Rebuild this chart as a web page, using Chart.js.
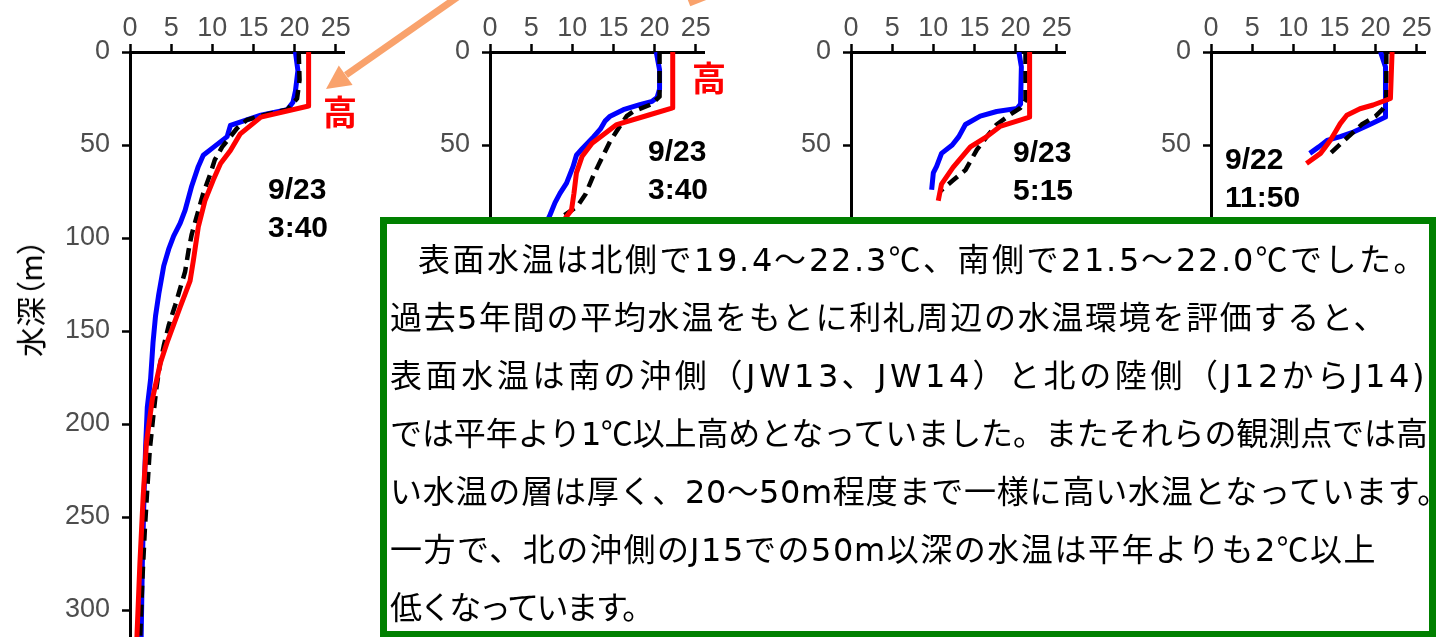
<!DOCTYPE html>
<html lang="ja">
<head>
<meta charset="utf-8">
<title>水温の鉛直分布</title>
<script src="https://cdn.jsdelivr.net/npm/chart.js@4.4.1/dist/chart.umd.min.js"></script>
<style>
@font-face { font-family: "NumDV"; src: local("DejaVu Sans"); unicode-range: U+0030-0039, U+002E, U+0041-005A, U+0061-007A, U+0029; }
html, body { margin: 0; padding: 0; background: #fff; }
#stage { position: relative; width: 1437px; height: 637px; overflow: hidden; }
canvas { position: absolute; top: 0; }
.date { position: absolute; font: bold 30px "Liberation Sans", Arial, sans-serif; line-height: 38px; color: #000; white-space: pre; }
.high { position: absolute; font: bold 34px "Noto Sans CJK JP", sans-serif; line-height: 34px; color: #ff0000; }
#ytitle { position: absolute; left: 29px; top: 298px; transform: translate(-50%, -50%) rotate(-90deg);
          font: 30px "Noto Sans CJK JP", sans-serif; line-height: 30px; color: #000; white-space: nowrap;
          text-spacing-trim: space-all; font-feature-settings: "palt"; }
#arrows { position: absolute; left: 0; top: 0; }
#note { position: absolute; left: 380px; top: 217px; width: 1056px; height: 421px; box-sizing: border-box;
        border: 7px solid #008000; background: #fff; padding: 4px 0 0 3px;
        font: 32px "NumDV", "Noto Sans CJK JP", sans-serif; line-height: 58px; color: #000; text-spacing-trim: space-all; }
#note div { white-space: nowrap; }
</style>
</head>
<body>
<div id="stage">
  <canvas id="c1" width="370" height="637" style="left:0px"></canvas>
  <canvas id="c2" width="330" height="637" style="left:400px"></canvas>
  <canvas id="c3" width="330" height="637" style="left:760px"></canvas>
  <canvas id="c4" width="317" height="637" style="left:1120px"></canvas>

  <div id="ytitle">水深（m）</div>

  <div class="high" style="left:323px; top:94px">高</div>
  <div class="high" style="left:692px; top:60px">高</div>

  <div class="date" style="left:268px; top:170px">9/23
3:40</div>
  <div class="date" style="left:648px; top:132px">9/23
3:40</div>
  <div class="date" style="left:1013px; top:133px">9/23
5:15</div>
  <div class="date" style="left:1225px; top:140px">9/22
11:50</div>

  <svg id="arrows" width="1437" height="637">
    <line x1="459" y1="-4" x2="346" y2="75" stroke="#f9a26c" stroke-width="7"/>
    <polygon points="326,89 352.6,85 338.8,65.4" fill="#f9a26c"/>
    <line x1="689" y1="3" x2="722" y2="-10" stroke="#f9a26c" stroke-width="7"/>
  </svg>

  <div id="note"></div>
</div>

<script>
// axis ticks
const xTicks = [0, 5, 10, 15, 20, 25];
const yTicks = [0, 50, 100, 150, 200, 250, 300];

// panel 1 : 9/23 3:40
const p1RedDepth = [0, 29, 35, 44, 53, 60, 69, 80, 94, 112, 123, 130, 137, 155, 167, 187, 210, 239, 275, 330];
const p1RedTemp = [21.7, 21.7, 15.9, 13.4, 12.2, 11.0, 10.1, 9.1, 8.3, 7.7, 7.3, 6.7, 6.1, 4.6, 3.7, 2.7, 2.0, 1.6, 1.2, 0.7];
const p1BlueDepth = [0, 10, 21, 27, 31, 34, 39.5, 45.5, 51, 55.5, 61.5, 72, 85, 92, 99, 106, 115, 130, 142, 156, 176, 191, 212, 239, 275, 330];
const p1BlueTemp = [20.1, 20.4, 20.1, 19.8, 19.1, 15.9, 12.2, 11.8, 10.2, 8.9, 8.3, 7.5, 6.7, 6.1, 5.3, 4.7, 4.1, 3.5, 3.1, 2.8, 2.5, 2.1, 1.9, 1.7, 1.5, 1.3];
const p1AvgDepth = [0, 15, 25, 31, 33.5, 36.5, 41, 45.5, 51, 58, 65, 76, 88.5, 98, 107, 118, 127, 136, 147, 158, 169, 181, 197, 214, 235, 257, 284, 330];
const p1AvgTemp = [20.5, 20.6, 20.3, 19.1, 16.6, 14.2, 13.0, 12.2, 11.2, 10.3, 9.8, 8.9, 8.1, 7.5, 7.1, 6.7, 6.1, 5.5, 4.7, 4.1, 3.6, 3.2, 2.8, 2.4, 2.1, 1.8, 1.5, 1.1];

// panel 2 : 9/23 3:40
const p2RedDepth = [0, 30, 34, 39, 49, 56, 65, 76, 85, 89, 100];
const p2RedTemp = [22.2, 22.2, 19.2, 15.4, 12.4, 11.2, 10.5, 10.2, 9.9, 9.2, 8.5];
const p2BlueDepth = [0, 9.5, 20, 24.5, 26.5, 28.3, 31, 34.5, 37, 41.5, 45.5, 52, 55.5, 61.5, 70.5, 76, 81, 87.5, 95, 105];
const p2BlueTemp = [20.2, 20.6, 20.6, 20.3, 19.7, 18.2, 16.2, 14.6, 14.0, 13.4, 12.6, 11.2, 10.5, 10.1, 9.3, 8.5, 7.9, 7.3, 6.5, 5.8];
const p2AvgDepth = [0, 24, 28.3, 32, 34.5, 42.5, 48, 57, 66, 76.5, 83, 89, 100];
const p2AvgTemp = [20.6, 20.6, 19.5, 17.4, 16.6, 15.4, 14.6, 13.6, 12.6, 11.6, 10.6, 8.6, 7.5];

// panel 3 : 9/23 5:15
const p3RedDepth = [0, 35, 40, 45.5, 51, 62, 71, 80];
const p3RedTemp = [21.7, 21.7, 18.1, 16.5, 14.5, 12.4, 11.0, 10.6];
const p3BlueDepth = [0, 8, 28, 30.3, 32, 34.5, 39, 45.5, 50, 54.5, 61.5, 65, 74];
const p3BlueTemp = [20.4, 20.7, 20.6, 20.2, 17.7, 15.7, 13.9, 13.1, 12.3, 11.0, 10.4, 10.0, 9.8];
const p3AvgDepth = [0, 26, 30, 33.5, 39, 45.5, 52.5, 63.5, 69, 75];
const p3AvgTemp = [21.2, 21.2, 20.6, 19.4, 17.7, 16.5, 15.3, 13.9, 12.4, 10.8];

// panel 4 : 9/22 11:50
const p4RedDepth = [0, 25, 28.5, 30.5, 34, 38.5, 43, 47.5, 51, 54.5, 60];
const p4RedTemp = [22.0, 21.8, 19.7, 18.1, 16.5, 15.7, 15.1, 14.5, 13.9, 13.3, 11.6];
const p4BlueDepth = [0, 8, 35, 39, 43, 45.5, 47.5, 51, 54.5];
const p4BlueTemp = [20.6, 21.2, 21.2, 19.3, 17.3, 15.7, 14.1, 13.1, 12.0];
const p4AvgDepth = [0, 28, 31, 34.5, 39, 45.5, 54.5];
const p4AvgTemp = [21.3, 21.3, 20.8, 20.0, 18.3, 16.7, 14.5];

const noteLines = [
    "表面水温は北側で19.4～22.3℃、南側で21.5～22.0℃でした。",
    "過去5年間の平均水温をもとに利礼周辺の水温環境を評価すると、",
    "表面水温は南の沖側（JW13、JW14）と北の陸側（J12からJ14)",
    "では平年より1℃以上高めとなっていました。またそれらの観測点では高",
    "い水温の層は厚く、20～50m程度まで一様に高い水温となっています。",
    "一方で、北の沖側のJ15での50m以深の水温は平年よりも2℃以上",
    "低くなっています。",
];
// where each line of the note ends on screen (px), so spacing matches the slide
const noteLineEnds = [1428, 1387, 1428, 1428, 1450, 1377, 652];

const note = document.querySelector("#note");
const noteSpans = noteLines.map((text, i) => {
    const line = document.createElement("div");
    if (i === 0) line.style.textIndent = "28px";
    const span = document.createElement("span");
    span.textContent = text;
    line.appendChild(span);
    note.appendChild(line);
    return span;
});

// stretch or squeeze each line to its width
const fitNote = () => {
    const stageLeft = document.querySelector("#stage").getBoundingClientRect().left;
    noteSpans.forEach((span, i) => {
        span.style.letterSpacing = "0px";
        const box = span.getBoundingClientRect();
        const n = [...span.textContent].length;
        const gap = noteLineEnds[i] - (box.right - stageLeft);
        span.style.letterSpacing = (gap / n).toFixed(2) + "px";
    });
};
fitNote();
document.fonts.ready.then(fitNote);

const toPoints = (depth, temp) => depth.map((d, i) => ({ x: temp[i], y: d }));

const PLOT_W = 214;
const tickFont = { family: "Liberation Sans", size: 27 };

const makePanel = (id, yWidth, red, avg, blue) => {
    const canvas = document.getElementById(id);
    const padRight = canvas.width - yWidth - PLOT_W;

    // red on top, then dashed average, blue underneath
    const datasets = [
        { data: toPoints(red[0], red[1]), borderColor: "#ff0000", borderWidth: 5 },
        { data: toPoints(avg[0], avg[1]), borderColor: "#000000", borderWidth: 4.5, borderDash: [12, 7] },
        { data: toPoints(blue[0], blue[1]), borderColor: "#0000ff", borderWidth: 5 },
    ].map((ds) => ({ ...ds, showLine: true, pointRadius: 0, tension: 0, borderJoinStyle: "round" }));

    return new Chart(canvas, {
        type: "scatter",
        data: { datasets },
        options: {
            responsive: false,
            animation: false,
            layout: { padding: { left: 0, right: padRight, top: 0, bottom: 0 } },
            plugins: { legend: { display: false }, tooltip: { enabled: false } },
            scales: {
                x: {
                    type: "linear",
                    position: "top",
                    min: 0,
                    max: 26,
                    afterBuildTicks: (s) => { s.ticks = xTicks.map((v) => ({ value: v })); },
                    afterFit: (s) => { s.height = 52; s.paddingLeft = 0; s.paddingRight = 0; },
                    grid: { drawOnChartArea: false, drawTicks: true, tickLength: 8, tickWidth: 2.5, tickColor: "#000" },
                    border: { display: true, color: "#000", width: 3 },
                    ticks: { font: tickFont, color: "#4d4d4d", padding: -1, maxRotation: 0 },
                },
                y: {
                    type: "linear",
                    reverse: true,
                    min: 0,
                    max: 314.5,
                    afterBuildTicks: (s) => { s.ticks = yTicks.map((v) => ({ value: v })); },
                    afterFit: (s) => { s.width = yWidth; s.paddingTop = 0; s.paddingBottom = 0; },
                    grid: { drawOnChartArea: false, drawTicks: true, tickLength: 8, tickWidth: 2.5, tickColor: "#000" },
                    border: { display: true, color: "#000", width: 3 },
                    ticks: { font: tickFont, color: "#4d4d4d", padding: 12 },
                },
            },
        },
    });
};

makePanel("c1", 130, [p1RedDepth, p1RedTemp], [p1AvgDepth, p1AvgTemp], [p1BlueDepth, p1BlueTemp]);
makePanel("c2", 90, [p2RedDepth, p2RedTemp], [p2AvgDepth, p2AvgTemp], [p2BlueDepth, p2BlueTemp]);
makePanel("c3", 91, [p3RedDepth, p3RedTemp], [p3AvgDepth, p3AvgTemp], [p3BlueDepth, p3BlueTemp]);
makePanel("c4", 91, [p4RedDepth, p4RedTemp], [p4AvgDepth, p4AvgTemp], [p4BlueDepth, p4BlueTemp]);
</script>
</body>
</html>
